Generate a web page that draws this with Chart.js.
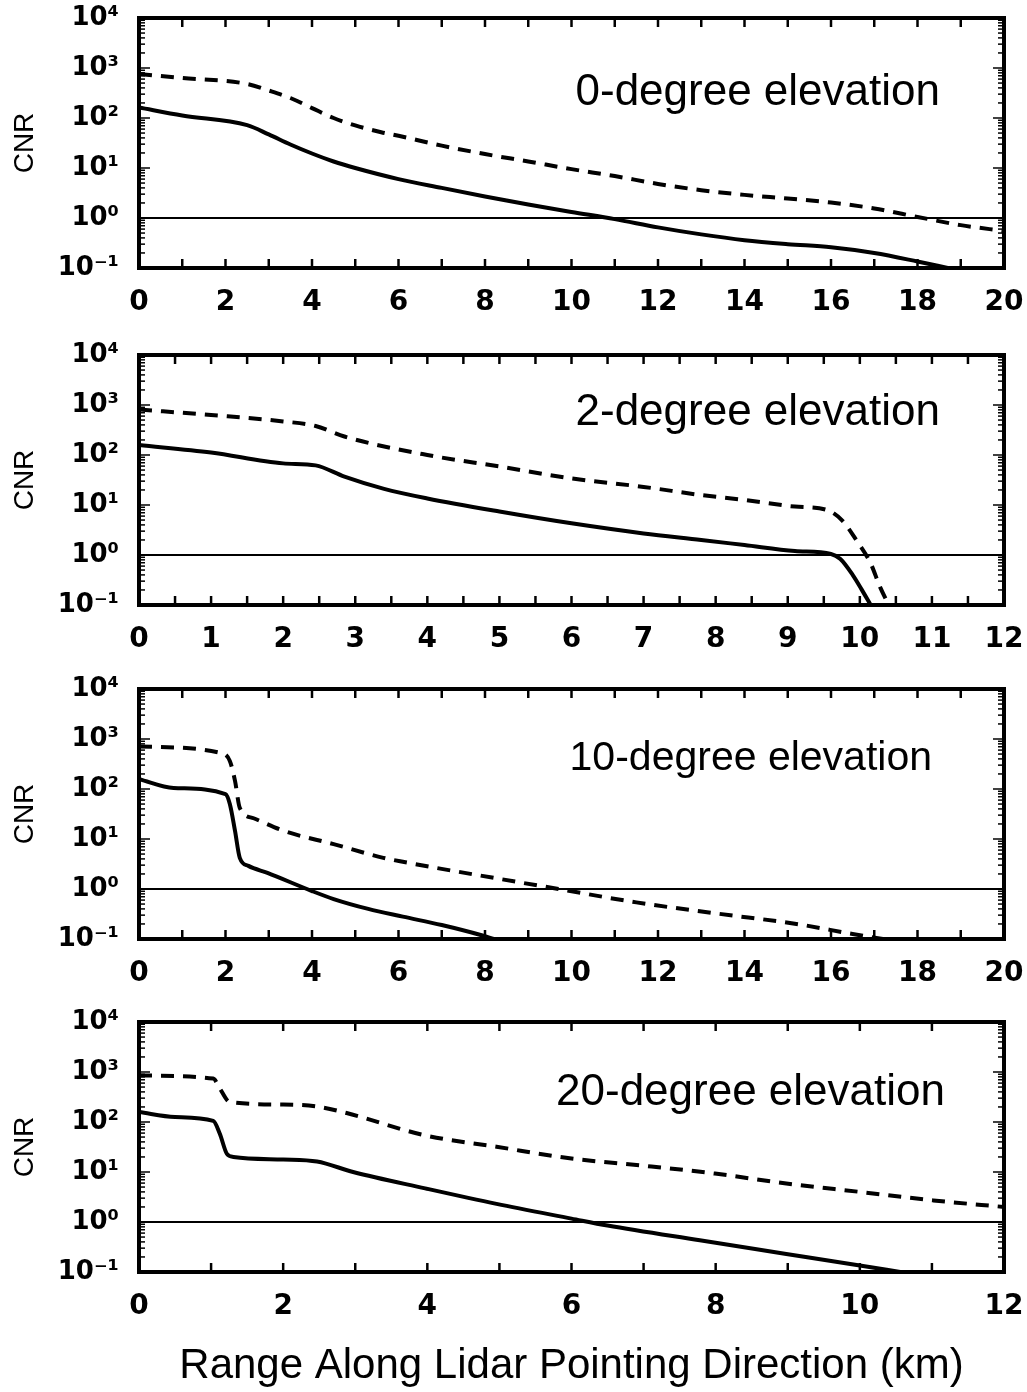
<!DOCTYPE html>
<html>
<head>
<meta charset="utf-8">
<script src="https://cdn.jsdelivr.net/npm/chart.js@4.4.1/dist/chart.umd.min.js"></script>
<style>
  body { margin: 0; background: #fff; }
  #page { position: relative; width: 1027px; height: 1392px; overflow: hidden; }
  canvas { position: absolute; left: 0; }
</style>
</head>
<body>
<div id="page">
  <canvas id="c0" width="1027" height="330" style="top:0px"></canvas>
  <canvas id="c1" width="1027" height="330" style="top:337px"></canvas>
  <canvas id="c2" width="1027" height="330" style="top:671px"></canvas>
  <canvas id="c3" width="1027" height="388" style="top:1004px"></canvas>
</div>
<script>
'use strict';

//tick labels and panel text
const yTickValues = [0.1, 1, 10, 100, 1000, 10000];
const yTickLabels = ['10⁻¹', '10⁰', '10¹', '10²', '10³', '10⁴'];
const panelTitles = ['0-degree elevation', '2-degree elevation', '10-degree elevation', '20-degree elevation'];
const xMaxes = [20, 12, 20, 12];
const xLabelSteps = [2, 1, 2, 2];
const xMinorSteps = [1, 0.5, 1, 1];
const xAxisTitle = 'Range Along Lidar Pointing Direction (km)';
const yAxisTitle = 'CNR';

//0-degree elevation
const range0Solid = [0, 1, 2.5, 3, 3.5, 4, 4.5, 5, 6, 7, 8, 9, 10, 11, 12, 13, 14, 15, 16, 17, 18, 18.7];
const cnr0Solid = [162, 112, 72, 47, 29.5, 19.5, 13.5, 10, 6.0, 4.0, 2.7, 1.86, 1.32, 0.95, 0.65, 0.47, 0.36, 0.3, 0.26, 0.2, 0.135, 0.1];
const range0Dashed = [0, 1, 2.5, 3, 3.5, 4, 4.5, 5, 5.6, 6, 7, 8, 9, 10, 11, 12, 13, 14, 15, 16, 17, 18, 19, 20];
const cnr0Dashed = [760, 630, 480, 355, 251, 158, 100, 71, 52, 44, 28, 19, 13.5, 9.5, 6.9, 4.8, 3.6, 2.9, 2.45, 2.04, 1.55, 1.05, 0.72, 0.55];

//2-degree elevation
const range2Solid = [0, 1, 2, 2.45, 2.85, 3.4, 4, 5, 6, 7, 7.8, 8.4, 9.1, 9.6, 9.73, 9.9, 10.02, 10.15];
const cnr2Solid = [158, 112, 68, 62, 37, 21, 13.5, 7.4, 4.3, 2.7, 2.0, 1.58, 1.2, 1.05, 0.83, 0.4, 0.21, 0.1];
const range2Dashed = [0, 1, 2, 2.45, 2.85, 4, 5, 6, 7, 7.8, 8.4, 9.1, 9.55, 9.75, 9.95, 10.15, 10.28, 10.4];
const cnr2Dashed = [810, 630, 470, 380, 234, 100, 59, 34, 23, 15.8, 12.6, 9.3, 7.9, 5.0, 2.0, 0.68, 0.23, 0.1];

//10-degree elevation
const range10Solid = [0, 0.8, 2.0, 2.1, 2.22, 2.33, 2.53, 2.97, 4, 4.5, 5.3, 6.1, 7, 7.9, 8.2];
const cnr10Solid = [158, 105, 79, 50, 14.5, 4.2, 2.9, 2.1, 0.91, 0.63, 0.4, 0.28, 0.19, 0.12, 0.1];
const range10Dashed = [0, 1.9, 2.1, 2.22, 2.33, 2.65, 3.35, 4.5, 5.65, 6.1, 8.36, 9.7, 11.5, 13.4, 15.2, 16.5, 17.2];
const cnr10Dashed = [710, 525, 363, 145, 42, 26, 14.5, 7.9, 4.2, 3.5, 1.58, 1.0, 0.54, 0.32, 0.2, 0.126, 0.1];

//20-degree elevation
const range20Solid = [0, 0.5, 1.03, 1.12, 1.22, 1.31, 2.0, 2.47, 2.97, 3.97, 4.96, 6.0, 6.5, 7.78, 8.98, 10.0, 10.56];
const cnr20Solid = [158, 126, 105, 59, 23, 20, 17.8, 16.2, 10, 4.7, 2.3, 1.17, 0.85, 0.43, 0.23, 0.135, 0.1];
const range20Dashed = [0, 1.03, 1.12, 1.26, 2.0, 2.47, 2.88, 3.97, 4.96, 6.0, 6.97, 7.99, 8.98, 10.0, 11.02, 12];
const cnr20Dashed = [850, 740, 470, 250, 224, 204, 151, 54, 32, 18.6, 13.5, 9.3, 5.9, 4.0, 2.7, 2.0];

const solidRanges = [range0Solid, range2Solid, range10Solid, range20Solid];
const solidCnr = [cnr0Solid, cnr2Solid, cnr10Solid, cnr20Solid];
const dashedRanges = [range0Dashed, range2Dashed, range10Dashed, range20Dashed];
const dashedCnr = [cnr0Dashed, cnr2Dashed, cnr10Dashed, cnr20Dashed];

//where the panel title sits, from the chart area's top right corner, and its size
const titleOffsets = [[64, 75], [64, 58], [72, 70], [59, 71]];
const titleSizes = [44, 44, 41, 44];

function toPoints(xs, ys) {
  return xs.map((x, i) => ({x: x, y: ys[i]}));
}

function line(ctx, x1, y1, x2, y2) {
  ctx.beginPath();
  ctx.moveTo(x1, y1);
  ctx.lineTo(x2, y2);
  ctx.stroke();
}

//frame with inward ticks plus the elevation text
const framePlugin = {
  id: 'frame',
  afterDatasetsDraw(chart, args, opts) {
    const ctx = chart.ctx;
    const a = chart.chartArea;
    const x = chart.scales.x;
    const y = chart.scales.y;
    ctx.save();
    ctx.strokeStyle = '#000';
    ctx.lineWidth = 2.5;
    let n = Math.round(x.max / opts.minor);
    for (let i = 1; i < n; i++) {
      let px = x.getPixelForValue(i * opts.minor);
      line(ctx, px, a.top, px, a.top + 9);
      line(ctx, px, a.bottom, px, a.bottom - 9);
    }
    ctx.lineWidth = 1.5;
    for (let d = -1; d < 4; d++) {
      for (let m = 1; m < 10; m++) {
        let py = y.getPixelForValue(m * Math.pow(10, d));
        let len = m === 1 ? 11 : 6;
        line(ctx, a.left, py, a.left + len, py);
        line(ctx, a.right, py, a.right - len, py);
      }
    }
    ctx.lineWidth = 4;
    ctx.strokeRect(a.left, a.top, a.right - a.left, a.bottom - a.top);
    ctx.fillStyle = '#000';
    ctx.font = opts.size + 'px "Liberation Sans", Arial, sans-serif';
    ctx.textAlign = 'right';
    ctx.textBaseline = 'middle';
    ctx.fillText(opts.title, a.right - opts.offset[0], a.top + opts.offset[1]);
    ctx.restore();
  }
};

function makePanel(i) {
  let last = i === 3;
  let xmax = xMaxes[i];
  new Chart(document.getElementById('c' + i), {
    type: 'line',
    data: {
      datasets: [
        {
          data: toPoints(solidRanges[i], solidCnr[i]),
          borderColor: '#000',
          borderWidth: 4,
          pointRadius: 0,
          cubicInterpolationMode: 'monotone'
        },
        {
          data: toPoints(dashedRanges[i], dashedCnr[i]),
          borderColor: '#000',
          borderWidth: 4,
          borderDash: [13, 9],
          pointRadius: 0,
          cubicInterpolationMode: 'monotone'
        },
        {
          data: [{x: 0, y: 1}, {x: xmax, y: 1}],
          borderColor: '#000',
          borderWidth: 2,
          pointRadius: 0
        }
      ]
    },
    options: {
      responsive: false,
      animation: false,
      devicePixelRatio: 1,
      layout: { padding: { left: 0, right: 23, top: 18, bottom: 0 } },
      plugins: {
        legend: { display: false },
        tooltip: { enabled: false },
        frame: { title: panelTitles[i], offset: titleOffsets[i], size: titleSizes[i], minor: xMinorSteps[i] }
      },
      scales: {
        x: {
          type: 'linear',
          min: 0,
          max: xmax,
          grid: { display: false },
          border: { display: false },
          ticks: {
            stepSize: xLabelSteps[i],
            color: '#000',
            padding: 10,
            maxRotation: 0,
            font: { family: '"DejaVu Sans", sans-serif', size: 28, weight: 'bold' }
          },
          title: {
            display: last,
            text: xAxisTitle,
            color: '#000',
            font: { family: '"Liberation Sans", Arial, sans-serif', size: 42 },
            padding: { top: 0, bottom: 0 }
          },
          afterFit(scale) {
            scale.height = last ? 120 : 62;
            scale.paddingLeft = 0;
            scale.paddingRight = 0;
          }
        },
        y: {
          type: 'logarithmic',
          min: 0.1,
          max: 10000,
          grid: { display: false },
          border: { display: false },
          afterBuildTicks(scale) {
            scale.ticks = yTickValues.map(v => ({value: v}));
          },
          ticks: {
            color: '#000',
            padding: 12,
            autoSkip: false,
            font: { family: '"DejaVu Sans", sans-serif', size: 26, weight: 'bold' },
            callback(value) {
              let k = yTickValues.indexOf(value);
              return k >= 0 ? yTickLabels[k] : '';
            }
          },
          title: {
            display: true,
            text: yAxisTitle,
            color: '#000',
            font: { family: '"Liberation Sans", Arial, sans-serif', size: 28 },
            padding: { top: 8, bottom: 0 }
          },
          afterFit(scale) {
            scale.width = 139;
            scale.paddingTop = 0;
            scale.paddingBottom = 0;
          }
        }
      }
    },
    plugins: [framePlugin]
  });
}

for (let i = 0; i < 4; i++) {
  makePanel(i);
}
</script>
</body>
</html>
